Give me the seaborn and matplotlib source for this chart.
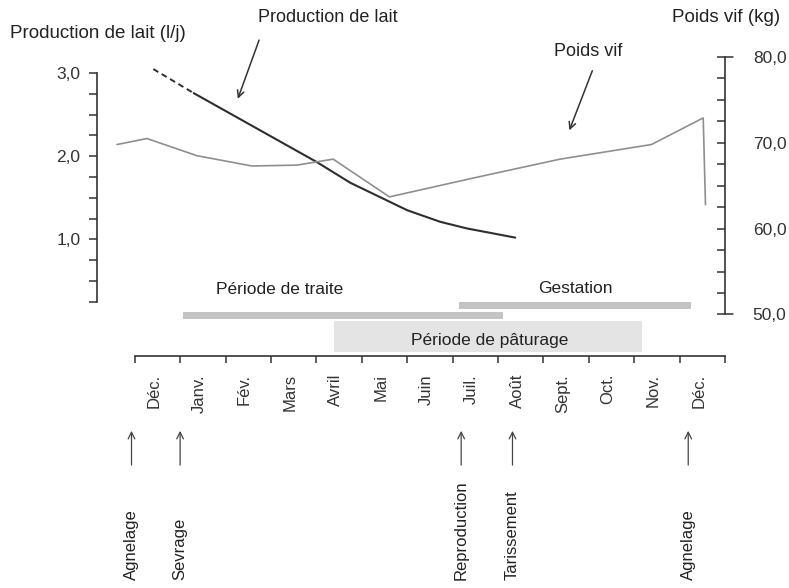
import numpy as np
import pandas as pd
import matplotlib
matplotlib.use('Agg')
import matplotlib.pyplot as plt
import seaborn as sns

# months on the time axis (one interval per month, Dec -> Dec)
months = ['Déc.', 'Janv.', 'Fév.', 'Mars', 'Avril', 'Mai', 'Juin',
          'Juil.', 'Août', 'Sept.', 'Oct.', 'Nov.', 'Déc.']

# milk production (l/j), x = month index from start of December
lait_x = [0.41, 1.30, 4.01, 4.75, 6.00, 6.73, 7.32, 8.38]
lait_y = [3.05, 2.76, 1.93, 1.68, 1.35, 1.21, 1.13, 1.02]
n_dashed = 2  # first segment is dashed (estimated)

# live weight (kg)
poids_x = [-0.39, 0.27, 1.37, 2.58, 3.57, 4.37, 5.61, 7.46, 9.37, 11.38, 12.52, 12.57]
poids_y = [69.8, 70.5, 68.5, 67.3, 67.4, 68.1, 63.7, 65.9, 68.1, 69.8, 72.9, 62.8]

# periods (start, end in month index)
periodes = ['Période de traite', 'Gestation', 'Période de pâturage']
per_debut = [1.06, 7.15, 4.39]
per_fin = [8.12, 12.25, 11.17]

# events
evenements = ['Agnelage', 'Sevrage', 'Reproduction', 'Tarissement', 'Agnelage']
evt_x = [-0.07, 1.0, 7.19, 8.32, 12.19]

lait_ticks = [1.0, 2.0, 3.0]
lait_labels = ['1,0', '2,0', '3,0']
poids_ticks = [50, 60, 70, 80]
poids_labels = ['50,0', '60,0', '70,0', '80,0']

sns.set_style('white')
plt.rcParams['font.family'] = ['Liberation Sans', 'DejaVu Sans']
plt.rcParams['font.size'] = 12

dark = '#2e2e2e'
txt = '#222222'
fig = plt.figure(figsize=(7.89, 5.88), dpi=100)
ax = fig.add_axes([97 / 789, 232 / 588, 628 / 789, 316 / 588])
ax2 = ax.twinx()

ax.set_xlim(-0.83, 13.0)
ax.set_ylim(-0.406, 3.40)
ax2.set_ylim(45.16, 81.98)

# lines
df_lait = pd.DataFrame({'mois': lait_x, 'lait': lait_y})
sns.lineplot(data=df_lait.iloc[:n_dashed], x='mois', y='lait', ax=ax, color=dark,
             lw=1.4, linestyle=(0, (3, 2)), estimator=None, sort=False)
sns.lineplot(data=df_lait.iloc[n_dashed - 1:], x='mois', y='lait', ax=ax, color=dark,
             lw=1.5, estimator=None, sort=False)
df_poids = pd.DataFrame({'mois': poids_x, 'poids': poids_y})
sns.lineplot(data=df_poids, x='mois', y='poids', ax=ax2, color='#8f8f8f',
             lw=1.2, estimator=None, sort=False)

# period bands (y in axes fraction)
band_rows = [(0.116, 0.140, '#c4c4c4'), (0.148, 0.172, '#c4c4c4'), (0.013, 0.112, '#e4e4e4')]
for d, f, (y0, y1, c) in zip(per_debut, per_fin, band_rows):
    ax.axvspan(d, f, ymin=y0, ymax=y1, color=c, lw=0, zorder=0)

# spines / axes
for s in ['top', 'right']:
    ax.spines[s].set_visible(False)
for s in ['top', 'left', 'bottom']:
    ax2.spines[s].set_visible(False)
for sp in [ax.spines['left'], ax.spines['bottom'], ax2.spines['right']]:
    sp.set_color('#333333')
    sp.set_linewidth(1.2)
ax.spines['left'].set_bounds(0.25, 3.0)
ax.spines['bottom'].set_bounds(0, 13)
ax2.spines['right'].set_bounds(50, 80)

ax.set_yticks(lait_ticks, labels=lait_labels)
ax.set_yticks(np.arange(0.25, 3.01, 0.25), minor=True)
ax.tick_params(axis='y', which='both', left=True, direction='out', length=6, width=1.1,
               color='#333333', pad=6, labelsize=12.5, labelcolor='#333333')

ax.set_xticks(np.arange(14))
ax.set_xticklabels([])
ax.set_xticks(np.arange(13) + 0.42, labels=months, minor=True, rotation=90)
ax.tick_params(axis='x', which='major', bottom=True, direction='out', length=5, width=1.1,
               color='#333333')
ax.tick_params(axis='x', which='minor', bottom=True, length=0, pad=13, labelsize=12,
               labelcolor='#333333')

ax2.set_yticks(poids_ticks, labels=poids_labels)
ax2.set_yticks(np.arange(50, 80.1, 2.5), minor=True)
ax2.tick_params(axis='y', which='both', right=True, direction='in', length=6, width=1.1,
                color='#333333', pad=20, labelsize=12.5, labelcolor='#333333')
for v in [50, 80]:
    ax2.axhline(v, xmin=1.0, xmax=1.012, color='#333333', lw=1.1, clip_on=False)

ax.set_xlabel('')
ax.set_ylabel('')
ax2.set_ylabel('')

# axis titles
fig.text(10 / 789, 1 - 33 / 588, 'Production de lait (l/j)', ha='left', va='center',
         fontsize=13.5, color=txt)
fig.text(672 / 789, 1 - 18 / 588, 'Poids vif (kg)', ha='left', va='center',
         fontsize=13.5, color=txt)

# callouts
fig.text(328 / 789, 1 - 18 / 588, 'Production de lait', ha='center', va='center',
         fontsize=13, color=txt)
ax.annotate('', xy=(2.25, 2.66), xytext=(2.76, 3.43), annotation_clip=False,
            arrowprops=dict(arrowstyle='->', color='#333333', lw=1.1))
fig.text(588 / 789, 1 - 52 / 588, 'Poids vif', ha='center', va='center',
         fontsize=13, color=txt)
ax2.annotate('', xy=(9.55, 71.15), xytext=(10.1, 78.7), annotation_clip=False,
             arrowprops=dict(arrowstyle='->', color='#333333', lw=1.1))

# period labels
fig.text(280 / 789, 1 - 290 / 588, periodes[0], ha='center', va='center', fontsize=12.5, color=txt)
fig.text(575 / 789, 1 - 289 / 588, periodes[1], ha='center', va='center', fontsize=12.5, color=txt)
fig.text(490 / 789, 1 - 340 / 588, periodes[2], ha='center', va='center', fontsize=12.5, color=txt)

# events under the time axis
tr = ax.get_xaxis_transform()
for name, x in zip(evenements, evt_x):
    ax.annotate('', xy=(x, -0.228), xycoords=tr, xytext=(x, -0.354), textcoords=tr,
                arrowprops=dict(arrowstyle='->', color='#444444', lw=0.9))
    ax.text(x, -0.709, name, rotation=90, ha='center', va='bottom', transform=tr,
            fontsize=12, color=txt)

fig.savefig('out.png', dpi=100)
